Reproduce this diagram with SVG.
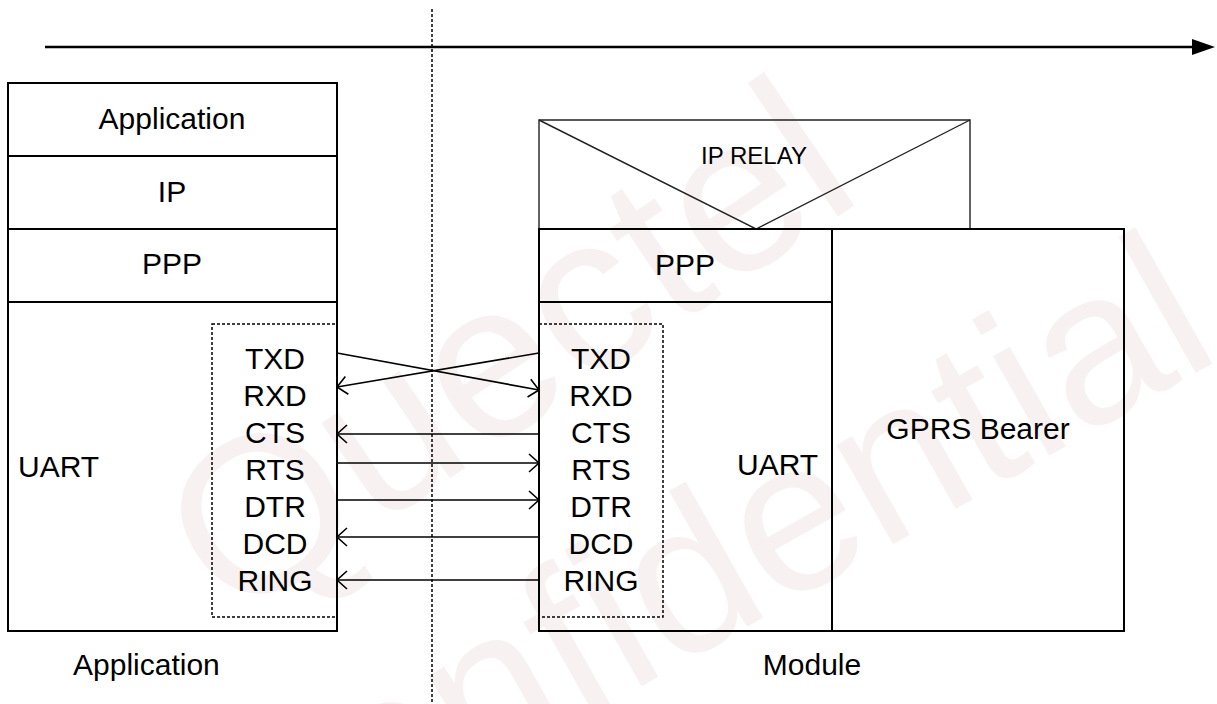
<svg xmlns="http://www.w3.org/2000/svg" width="1217" height="704" viewBox="0 0 1217 704">
<defs>
<style>
text{font-family:"Liberation Sans",Arial,sans-serif;fill:#000;}
.t30{font-size:30px;}
.c{text-anchor:middle;}
.box{fill:none;stroke:#000;stroke-width:2;}
.thin{fill:none;stroke:#222;stroke-width:1.4;}
.dash{fill:none;stroke:#000;stroke-width:1.5;stroke-dasharray:3 2;}
.sig{stroke:#000;stroke-width:1.6;fill:none;marker-end:url(#chev);}
.wm{fill:#f8f1f1;}
</style>
<marker id="chev" viewBox="-11 -10 13 20" refX="0" refY="0" markerWidth="13" markerHeight="20" markerUnits="userSpaceOnUse" orient="auto">
<path d="M-10,-9 L0,0 L-10,9" fill="none" stroke="#000" stroke-width="1.6"/>
</marker>
</defs>
<rect width="1217" height="704" fill="#fff"/>
<g id="watermark">
<text class="wm" font-size="222" transform="translate(232,625) rotate(-34)">Quectel</text>
<text class="wm" font-size="216" transform="translate(232,918) rotate(-29.5)">Confidential</text>
</g>
<g id="timeline">
<line x1="45" y1="47" x2="1195" y2="47" stroke="#000" stroke-width="2.5"/>
<polygon points="1192,39 1215,47 1192,55" fill="#000"/>
<line x1="432" y1="9" x2="432" y2="704" class="dash"/>
</g>
<g id="app-stack">
<rect x="8" y="83" width="329" height="548" class="box"/>
<line x1="8" y1="156" x2="337" y2="156" class="box"/>
<line x1="8" y1="229" x2="337" y2="229" class="box"/>
<line x1="8" y1="302" x2="337" y2="302" class="box"/>
<text class="t30 c" x="172" y="129">Application</text>
<text class="t30 c" x="172" y="202">IP</text>
<text class="t30 c" x="172" y="274">PPP</text>
<text class="t30" x="18" y="477">UART</text>
</g>
<g id="app-pins">
<rect x="212" y="324" width="125" height="293" class="dash"/>
<text class="t30 c" x="275" y="369">TXD</text>
<text class="t30 c" x="275" y="406">RXD</text>
<text class="t30 c" x="275" y="443">CTS</text>
<text class="t30 c" x="275" y="480">RTS</text>
<text class="t30 c" x="275" y="517">DTR</text>
<text class="t30 c" x="275" y="554">DCD</text>
<text class="t30 c" x="275" y="591">RING</text>
</g>
<g id="ip-relay">
<polyline points="539,229 539,120 970,120 970,229" class="thin"/>
<polyline points="539,120 756,229 970,120" class="thin"/>
<text class="c" x="754" y="164" font-size="24">IP RELAY</text>
</g>
<g id="module-stack">
<rect x="539" y="229" width="293" height="402" class="box"/>
<line x1="539" y1="302" x2="832" y2="302" class="box"/>
<text class="t30 c" x="685" y="275">PPP</text>
<text class="t30" x="737" y="475">UART</text>
</g>
<g id="module-pins">
<rect x="539" y="324" width="124" height="293" class="dash"/>
<text class="t30 c" x="601" y="369">TXD</text>
<text class="t30 c" x="601" y="406">RXD</text>
<text class="t30 c" x="601" y="443">CTS</text>
<text class="t30 c" x="601" y="480">RTS</text>
<text class="t30 c" x="601" y="517">DTR</text>
<text class="t30 c" x="601" y="554">DCD</text>
<text class="t30 c" x="601" y="591">RING</text>
</g>
<g id="gprs-bearer">
<rect x="832" y="229" width="292" height="402" class="box"/>
<text class="t30 c" x="978" y="439">GPRS Bearer</text>
</g>
<g id="connectors">
<line class="sig" x1="337" y1="353" x2="539" y2="390"/>
<line class="sig" x1="539" y1="353" x2="337" y2="387"/>
<line class="sig" x1="539" y1="434" x2="337" y2="434"/>
<line class="sig" x1="337" y1="463" x2="539" y2="463"/>
<line class="sig" x1="337" y1="500" x2="539" y2="500"/>
<line class="sig" x1="539" y1="537" x2="337" y2="537"/>
<line class="sig" x1="539" y1="580" x2="337" y2="580"/>
</g>
<g id="labels">
<text class="t30" x="73" y="675">Application</text>
<text class="t30 c" x="812" y="675">Module</text>
</g>
</svg>
